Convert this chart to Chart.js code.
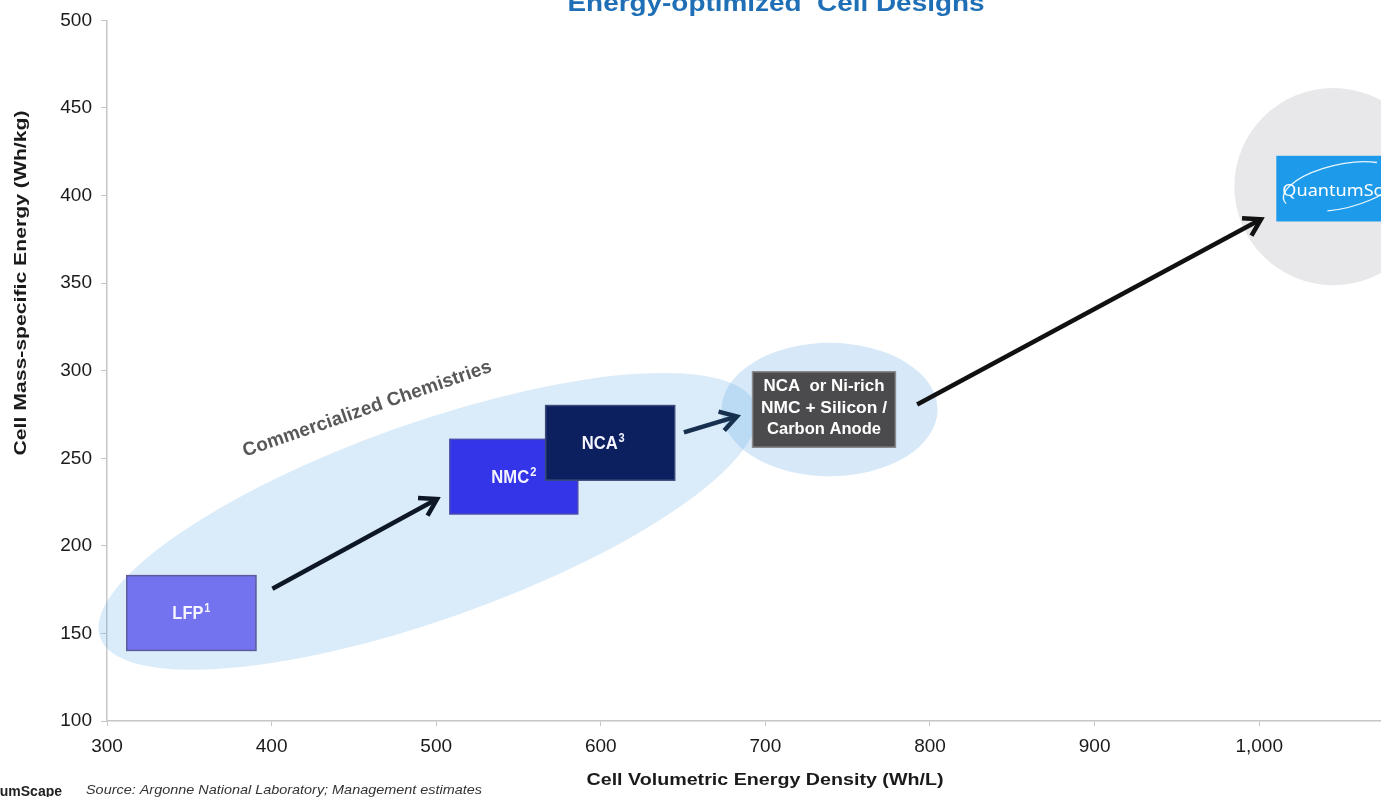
<!DOCTYPE html>
<html>
<head>
<meta charset="utf-8">
<title>Energy-optimized Cell Designs</title>
<script src="https://cdn.jsdelivr.net/npm/chart.js@4.4.1/dist/chart.umd.min.js"></script>
<style>
  html, body { margin: 0; padding: 0; background: #fff; }
  #wrap { width: 1381px; height: 797px; }
</style>
</head>
<body>
<div id="wrap"><canvas id="cellChart" width="1381" height="797"></canvas></div>
<script>
// Chart data
const cellLabels = ['LFP¹', 'NMC²', 'NCA³', 'NCA  or Ni-rich|NMC + Silicon /|Carbon Anode', 'QuantumScape'];
const volumetricLow = [312, 508.3, 566.5, 692.2, 1010.4];
const volumetricHigh = [390.5, 586, 644.9, 779, 1090];
const massLow = [140.3, 218.2, 237.5, 256.3, 385.2];
const massHigh = [183, 260.8, 280.1, 299.4, 422.7];

// shaded zones behind the boxes
const zoneNames = ['Commercialized Chemistries', 'Next generation', 'QuantumScape'];
const zoneVolCenter = [495, 739, 1045];
const zoneMassCenter = [214, 277.8, 405.1];
const zoneVolRadius = [211.3, 65.6, 60.1];
const zoneMassRadius = [56, 38.1, 56.3];
const zoneTiltDeg = [-19.5, 0, 0];

// arrows between the chemistries
const arrowVolStart = [400.5, 650.5, 792.2];
const arrowMassStart = [175.5, 264.8, 280.7];
const arrowVolEnd = [500.5, 682.7, 1001.1];
const arrowMassEnd = [226.7, 273.9, 386.5];

// tick labels
const volTicks = [300, 400, 500, 600, 700, 800, 900, 1000];
const massTicks = [100, 150, 200, 250, 300, 350, 400, 450, 500];

// Styles
const boxFill = ['#7373ef', '#3434e8', '#0c1f5e', '#4b4b4d', '#1d9bea'];
const boxBorder = ['#5c5c9c', '#4a4ab0', '#3a4a7a', '#8a8a8a', null];
const zoneFill = ['rgba(100,170,230,0.24)', 'rgba(100,170,230,0.26)', '#e8e8ea'];
const arrowColors = ['#0e1726', '#17304f', '#111111'];
const axisColor = '#c6c6c6';
const superDigits = { '¹': '1', '²': '2', '³': '3' };

const px = (chart, v) => chart.scales.x.getPixelForValue(v);
const py = (chart, v) => chart.scales.y.getPixelForValue(v);

// Draw text squeezed/stretched to a given width
fitText = (ctx, text, x, y, width, align) => {
    let w = ctx.measureText(text).width;
    ctx.save();
    ctx.translate(x, y);
    ctx.scale(width / w, 1);
    ctx.textAlign = align || 'center';
    ctx.fillText(text, 0, 0);
    ctx.restore();
}

// Condensed box label with a raised footnote digit
drawBoxLabel = (ctx, label, cx, cy, width) => {
    let last = label.slice(-1);
    let main = superDigits[last] ? label.slice(0, -1) : label;
    let sup = superDigits[last] || '';
    ctx.save();
    ctx.font = 'bold 18px "Liberation Sans", Arial, sans-serif';
    let wMain = ctx.measureText(main).width;
    ctx.font = 'bold 12px "Liberation Sans", Arial, sans-serif';
    let wSup = ctx.measureText(sup).width + 1;
    let k = width / (wMain + wSup);
    ctx.translate(cx - width / 2, cy + 6);
    ctx.scale(k, 1);
    ctx.textAlign = 'left';
    ctx.textBaseline = 'alphabetic';
    ctx.font = 'bold 18px "Liberation Sans", Arial, sans-serif';
    ctx.fillText(main, 0, 0);
    ctx.font = 'bold 12px "Liberation Sans", Arial, sans-serif';
    ctx.fillText(sup, wMain + 1, -7);
    ctx.restore();
}

// Plugin: ellipses and boxes behind the arrows
const zonesPlugin = {
    id: 'zones',
    beforeDatasetsDraw(chart) {
        let ctx = chart.ctx;
        ctx.save();
        zoneNames.forEach((name, i) => {
            let cx = px(chart, zoneVolCenter[i]);
            let cy = py(chart, zoneMassCenter[i]);
            let rx = Math.abs(px(chart, zoneVolCenter[i] + zoneVolRadius[i]) - cx);
            let ry = Math.abs(py(chart, zoneMassCenter[i] + zoneMassRadius[i]) - cy);
            ctx.beginPath();
            ctx.ellipse(cx, cy, rx, ry, zoneTiltDeg[i] * Math.PI / 180, 0, Math.PI * 2);
            ctx.fillStyle = zoneFill[i];
            ctx.fill();
        });
        cellLabels.forEach((label, i) => {
            let x0 = px(chart, volumetricLow[i]);
            let x1 = px(chart, volumetricHigh[i]);
            let y0 = py(chart, massHigh[i]);
            let y1 = py(chart, massLow[i]);
            ctx.fillStyle = boxFill[i];
            ctx.fillRect(x0, y0, x1 - x0, y1 - y0);
            if (boxBorder[i]) {
                ctx.strokeStyle = boxBorder[i];
                ctx.lineWidth = 1.5;
                ctx.strokeRect(x0, y0, x1 - x0, y1 - y0);
            }
            let cx = (x0 + x1) / 2;
            let cy = (y0 + y1) / 2;
            ctx.fillStyle = '#f4f4ff';
            ctx.textBaseline = 'middle';
            if (i === 4) {
                // logo: swoosh + wordmark
                ctx.strokeStyle = 'rgba(255,255,255,0.9)';
                ctx.lineWidth = 1.3;
                ctx.beginPath();
                ctx.ellipse(x0 + 64, cy - 2, 58, 22, -0.22, Math.PI * 0.93, Math.PI * 1.75);
                ctx.stroke();
                ctx.beginPath();
                ctx.ellipse(x0 + 64, cy - 2, 58, 22, -0.22, Math.PI * 0.1, Math.PI * 0.6);
                ctx.stroke();
                ctx.fillStyle = '#ffffff';
                ctx.font = '17px "Noto Sans", sans-serif';
                let k = 100 / ctx.measureText('QuantumSc').width;
                ctx.save();
                ctx.translate(x0 + 6, cy + 3);
                ctx.scale(k, 1);
                ctx.textAlign = 'left';
                ctx.fillText(label, 0, 0);
                ctx.restore();
            } else if (i === 3) {
                ctx.fillStyle = '#ffffff';
                ctx.font = 'bold 16px "Liberation Sans", Arial, sans-serif';
                let lines = label.split('|');
                lines.forEach((ln, k) => {
                    fitText(ctx, ln, cx, cy + (k - 1) * 21.5 - 1, [121, 126, 114][k]);
                });
            } else {
                let widths = [38, 45, 43];
                drawBoxLabel(ctx, label, i === 2 ? cx - 7 : cx, cy, widths[i]);
            }
        });
        ctx.restore();
    }
};

// Plugin: open arrow heads at the end of each arrow line
const arrowHeadPlugin = {
    id: 'arrowHeads',
    afterDatasetsDraw(chart) {
        let ctx = chart.ctx;
        ctx.save();
        arrowVolEnd.forEach((v, i) => {
            let x0 = px(chart, arrowVolStart[i]), y0 = py(chart, arrowMassStart[i]);
            let x1 = px(chart, v), y1 = py(chart, arrowMassEnd[i]);
            let ang = Math.atan2(y1 - y0, x1 - x0);
            let len = 19;
            ctx.strokeStyle = arrowColors[i];
            ctx.lineWidth = 4.5;
            ctx.lineJoin = 'miter';
            ctx.lineCap = 'butt';
            ctx.beginPath();
            ctx.moveTo(x1 - len * Math.cos(ang - 0.55), y1 - len * Math.sin(ang - 0.55));
            ctx.lineTo(x1, y1);
            ctx.lineTo(x1 - len * Math.cos(ang + 0.55), y1 - len * Math.sin(ang + 0.55));
            ctx.stroke();
        });
        ctx.restore();
    }
};

// Plugin: titles, zone label and footer
const textPlugin = {
    id: 'texts',
    afterDraw(chart) {
        let ctx = chart.ctx;
        ctx.save();
        ctx.textBaseline = 'alphabetic';

        ctx.fillStyle = '#1f6fb6';
        ctx.font = 'bold 23px "Liberation Sans", Arial, sans-serif';
        fitText(ctx, 'Energy-optimized  Cell Designs', 776, 11, 417);

        ctx.fillStyle = '#1a1a1a';
        ctx.font = 'bold 17px "Liberation Sans", Arial, sans-serif';
        fitText(ctx, 'Cell Volumetric Energy Density (Wh/L)', 765, 785, 357);

        ctx.save();
        ctx.translate(26, 283);
        ctx.rotate(-Math.PI / 2);
        ctx.font = 'bold 17px "Liberation Sans", Arial, sans-serif';
        fitText(ctx, 'Cell Mass-specific Energy (Wh/kg)', 0, 0, 345);
        ctx.restore();

        // zone label, tilted along the big ellipse
        ctx.save();
        ctx.translate(369, 414);
        ctx.rotate(-19 * Math.PI / 180);
        ctx.fillStyle = '#585858';
        ctx.font = 'bold 19px "Liberation Sans", Arial, sans-serif';
        let label = zoneNames[0];
        let w = ctx.measureText(label).width;
        ctx.letterSpacing = Math.max(0, (262 - w) / (label.length - 1)).toFixed(2) + 'px';
        ctx.textAlign = 'center';
        ctx.fillText(label, 0, 0);
        ctx.restore();

        // footer
        ctx.fillStyle = '#222222';
        ctx.font = 'bold 14px "Liberation Sans", Arial, sans-serif';
        ctx.textAlign = 'right';
        ctx.fillText('QuantumScape', 62, 796);
        ctx.fillStyle = '#333333';
        ctx.font = 'italic 13px "Liberation Sans", Arial, sans-serif';
        fitText(ctx, 'Source: Argonne National Laboratory; Management estimates', 86, 794, 396, 'left');
        ctx.restore();
    }
};

// Arrow lines as line datasets
let arrowDatasets = arrowVolStart.map((v, i) => ({
    data: [{ x: v, y: arrowMassStart[i] }, { x: arrowVolEnd[i], y: arrowMassEnd[i] }],
    borderColor: arrowColors[i],
    borderWidth: 4.5,
    pointRadius: 0,
    fill: false,
    tension: 0
}));

let tickFont = { family: '"Liberation Sans", Arial, sans-serif', size: 19 };

createChart = () => {
    let ctx = document.getElementById('cellChart').getContext('2d');
    new Chart(ctx, {
        type: 'line',
        data: { datasets: arrowDatasets },
        options: {
            responsive: false,
            animation: false,
            devicePixelRatio: 1,
            layout: { padding: { top: 17, left: 0, right: 0, bottom: 0 } },
            plugins: {
                legend: { display: false },
                tooltip: { enabled: false }
            },
            scales: {
                x: {
                    type: 'linear',
                    min: 300,
                    max: 1074,
                    afterBuildTicks: (s) => { s.ticks = volTicks.map(v => ({ value: v })); },
                    afterFit: (s) => { s.height = 76; },
                    ticks: { font: tickFont, color: '#1a1a1a', padding: 9, maxRotation: 0 },
                    grid: { drawOnChartArea: false, tickLength: 5, color: axisColor },
                    border: { color: axisColor, width: 1.5 }
                },
                y: {
                    type: 'linear',
                    min: 100,
                    max: 500,
                    afterBuildTicks: (s) => { s.ticks = massTicks.map(v => ({ value: v })); },
                    afterFit: (s) => { s.width = 107; },
                    ticks: { font: tickFont, color: '#1a1a1a', padding: 9 },
                    grid: { drawOnChartArea: false, tickLength: 6, color: axisColor },
                    border: { color: axisColor, width: 1.5 }
                }
            }
        },
        plugins: [zonesPlugin, arrowHeadPlugin, textPlugin]
    });
}

window.addEventListener('load', createChart);
</script>
</body>
</html>
